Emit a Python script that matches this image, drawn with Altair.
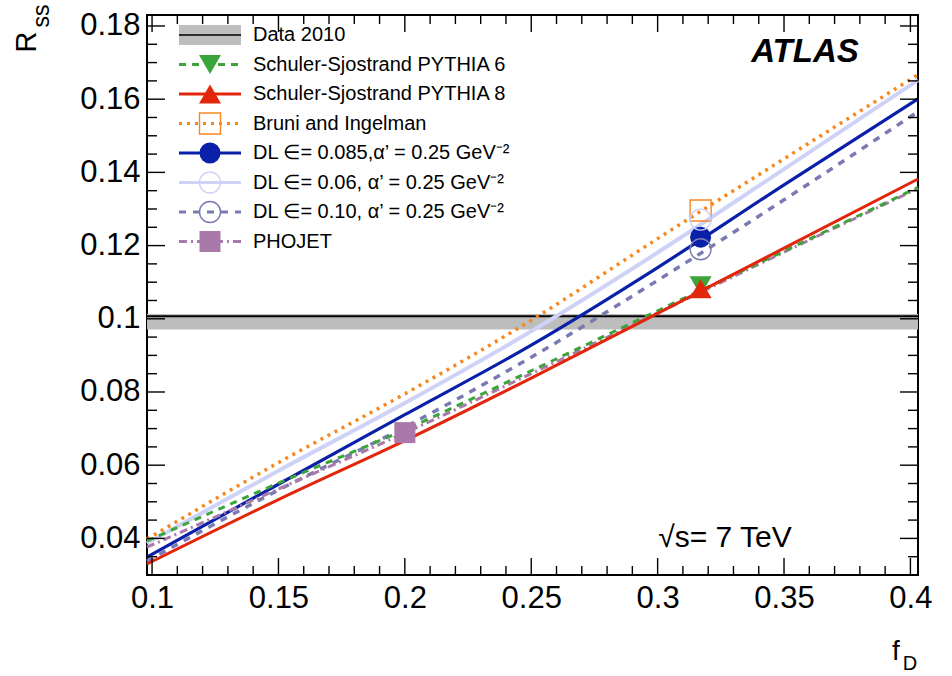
import altair as alt
import pandas as pd

# ---- values ----------------------------------------------------------------
f_d = [0.098, 0.15, 0.2, 0.25, 0.3, 0.35, 0.403]

r_py6 = [0.0393, 0.0551, 0.0697, 0.0858, 0.1022, 0.1185, 0.1359]
r_py8 = [0.0330, 0.0506, 0.0667, 0.0838, 0.1015, 0.1193, 0.1382]
r_bruni = [0.0398, 0.0607, 0.0795, 0.0996, 0.1219, 0.1437, 0.1667]
r_dl085 = [0.0349, 0.0548, 0.0738, 0.0928, 0.1140, 0.1366, 0.1601]
r_dl06 = [0.0387, 0.0585, 0.0770, 0.0966, 0.1181, 0.1409, 0.1652]
r_dl10 = [0.0338, 0.0532, 0.0704, 0.0895, 0.1105, 0.1325, 0.1566]
r_phojet = [0.0376, 0.0535, 0.0688, 0.0850, 0.1016, 0.1182, 0.1356]

model_names = [
    "Schuler-Sjostrand PYTHIA 6",
    "Schuler-Sjostrand PYTHIA 8",
    "Bruni and Ingelman",
    "DL ∈= 0.085,α’ = 0.25 GeV⁻²",
    "DL ∈= 0.06, α’ = 0.25 GeV⁻²",
    "DL ∈= 0.10, α’ = 0.25 GeV⁻²",
    "PHOJET",
]
model_curves = [r_py6, r_py8, r_bruni, r_dl085, r_dl06, r_dl10, r_phojet]

# each generator's own prediction (f_D, R_ss)
pred_fd = [0.317, 0.317, 0.317, 0.317, 0.317, 0.317, 0.200]
pred_rss = [0.1090, 0.1082, 0.1296, 0.1223, 0.1271, 0.1190, 0.0689]

# measured value with its uncertainty band
data_label = "Data 2010"
data_rss = 0.1007
data_lo = 0.0971
data_hi = 0.1013

x_major = [0.1, 0.15, 0.2, 0.25, 0.3, 0.35, 0.4]
x_minor = [round(0.1 + 0.01 * i, 3) for i in range(31) if i % 5 != 0]
y_major = [0.04, 0.06, 0.08, 0.1, 0.12, 0.14, 0.16, 0.18]
y_minor = [round(0.035 + 0.005 * i, 3) for i in range(30) if round(0.035 + 0.005 * i, 3) not in y_major]
y_minor = [v for v in y_minor if v <= 0.183]

# ---- styles ----------------------------------------------------------------
styles = [
    dict(color="#3ba53b", dash=[7, 6], width=3.0, shape="triangle-down", filled=True),
    dict(color="#e2260c", dash=None, width=3.0, shape="triangle-up", filled=True),
    dict(color="#f7871f", dash=[3, 5], width=3.5, shape="square", filled=False),
    dict(color="#0b20a8", dash=None, width=3.2, shape="circle", filled=True),
    dict(color="#cfd2f7", dash=None, width=4.0, shape="circle", filled=False),
    dict(color="#7a7ab3", dash=[7, 7], width=3.5, shape="circle", filled=False),
    dict(color="#a97aa9", dash=[8, 4, 2, 4], width=3.0, shape="square", filled=True),
]
draw_order = [4, 2, 5, 3, 6, 0, 1]

W, H = 771, 560
FONT = "Liberation Sans"

xs = alt.Scale(domain=[0.098, 0.403], nice=False, zero=False)
ys = alt.Scale(domain=[0.030, 0.183], nice=False, zero=False)

x_axis = alt.Axis(values=x_major, format="~g", ticks=False, domain=False, grid=False,
                  labelFont=FONT, labelFontSize=31, labelColor="black", labelPadding=8,
                  labelFlush=False, labelOverlap=False, title=None)
y_axis = alt.Axis(values=y_major, format="~g", ticks=False, domain=False, grid=False,
                  labelFont=FONT, labelFontSize=31, labelColor="black", labelPadding=7,
                  labelFlush=False, labelOverlap=False, title=None)


def X(field):
    return alt.X(field, type="quantitative", scale=xs, axis=x_axis)


def Y(field):
    return alt.Y(field, type="quantitative", scale=ys, axis=y_axis)


one = pd.DataFrame({"k": [0]})
layers = []

# measurement band and central value
band_df = pd.DataFrame({"lo": [data_lo], "hi": [data_hi], "r": [data_rss]})
layers.append(alt.Chart(band_df).mark_rect(color="#bdbdbd").encode(
    x=alt.value(0), x2=alt.value(W), y=Y("lo"), y2=alt.Y2("hi")))
layers.append(alt.Chart(band_df).mark_rule(color="black", strokeWidth=2).encode(
    x=alt.value(0), x2=alt.value(W), y=Y("r")))

# model curves
for i in draw_order:
    st = styles[i]
    df = pd.DataFrame({"f": f_d, "r": model_curves[i]})
    kw = dict(color=st["color"], strokeWidth=st["width"], interpolate="monotone")
    if st["dash"]:
        kw["strokeDash"] = st["dash"]
    layers.append(alt.Chart(df).mark_line(**kw).encode(x=X("f"), y=Y("r")))


def point_mark(st):
    size = 484 if st["shape"].startswith("triangle") else 441
    return dict(shape=st["shape"], filled=st["filled"], size=size, color=st["color"],
                strokeWidth=1.4, opacity=1)


# model predictions
for i in range(len(model_names)):
    st = styles[i]
    df = pd.DataFrame({"f": [pred_fd[i]], "r": [pred_rss[i]]})
    layers.append(alt.Chart(df).mark_point(**point_mark(st)).encode(x=X("f"), y=Y("r")))

# frame ticks (inward, on all four sides)
for vals, length in [(x_major, 17), (x_minor, 9)]:
    tdf = pd.DataFrame({"f": vals})
    layers.append(alt.Chart(tdf).mark_rule(color="black", strokeWidth=1.4).encode(
        x=X("f"), y=alt.value(H), y2=alt.value(H - length)))
    layers.append(alt.Chart(tdf).mark_rule(color="black", strokeWidth=1.4).encode(
        x=X("f"), y=alt.value(0), y2=alt.value(length)))
for vals, length in [(y_major, 18), (y_minor, 10)]:
    tdf = pd.DataFrame({"r": vals})
    layers.append(alt.Chart(tdf).mark_rule(color="black", strokeWidth=1.4).encode(
        y=Y("r"), x=alt.value(0), x2=alt.value(length)))
    layers.append(alt.Chart(tdf).mark_rule(color="black", strokeWidth=1.4).encode(
        y=Y("r"), x=alt.value(W), x2=alt.value(W - length)))

# legend
LX0, LX1, LXM, LXT = 32, 94, 63, 106
row_y = lambda k: 20 + 29.5 * k
LFS = 20

layers.append(alt.Chart(one).mark_rect(color="#bdbdbd").encode(
    x=alt.value(LX0), x2=alt.value(LX1), y=alt.value(row_y(0) - 10), y2=alt.value(row_y(0) + 10)))
layers.append(alt.Chart(one).mark_rule(color="black", strokeWidth=1.5).encode(
    x=alt.value(LX0), x2=alt.value(LX1), y=alt.value(row_y(0))))
layers.append(alt.Chart(one).mark_text(align="left", baseline="middle", font=FONT,
                                       fontSize=LFS, color="black", text=data_label).encode(
    x=alt.value(LXT), y=alt.value(row_y(0))))

for i, name in enumerate(model_names):
    st = styles[i]
    yy = row_y(i + 1)
    kw = dict(color=st["color"], strokeWidth=3)
    if st["dash"]:
        kw["strokeDash"] = st["dash"]
    layers.append(alt.Chart(one).mark_rule(**kw).encode(
        x=alt.value(LX0), x2=alt.value(LX1), y=alt.value(yy)))
    layers.append(alt.Chart(one).mark_point(**point_mark(st)).encode(
        x=alt.value(LXM), y=alt.value(yy)))
    layers.append(alt.Chart(one).mark_text(align="left", baseline="middle", font=FONT,
                                           fontSize=LFS, color="black", text=name).encode(
        x=alt.value(LXT), y=alt.value(yy)))

# labels on the canvas
layers.append(alt.Chart(one).mark_text(align="center", baseline="middle", font=FONT,
                                       fontSize=33, fontWeight="bold", fontStyle="italic",
                                       color="black", text="ATLAS").encode(
    x=alt.value(658), y=alt.value(37)))
layers.append(alt.Chart(one).mark_text(align="center", baseline="middle", font=FONT,
                                       fontSize=30, color="black", text="√s= 7 TeV").encode(
    x=alt.value(578), y=alt.value(523)))

# axis titles
layers.append(alt.Chart(one).mark_text(align="center", baseline="middle", font=FONT,
                                       fontSize=29, angle=270, color="black", text="R").encode(
    x=alt.value(27 - 147), y=alt.value(42 - 15)))
layers.append(alt.Chart(one).mark_text(align="center", baseline="middle", font=FONT,
                                       fontSize=23, angle=270, color="black", text="ss").encode(
    x=alt.value(42 - 147), y=alt.value(16 - 15)))
layers.append(alt.Chart(one).mark_text(align="center", baseline="middle", font=FONT,
                                       fontSize=28, color="black", text="f").encode(
    x=alt.value(896 - 147), y=alt.value(652 - 15)))
layers.append(alt.Chart(one).mark_text(align="center", baseline="middle", font=FONT,
                                       fontSize=20, color="black", text="D").encode(
    x=alt.value(910 - 147), y=alt.value(664 - 15)))

chart = alt.layer(*layers).properties(
    width=W, height=H,
    padding={"left": 147, "top": 15, "right": 34, "bottom": 101},
    autosize=alt.AutoSizeParams(type="none"),
    background="white",
).configure_view(stroke="black", strokeWidth=2)

chart.save("out.html", embed_options={"renderer": "svg", "actions": False})
